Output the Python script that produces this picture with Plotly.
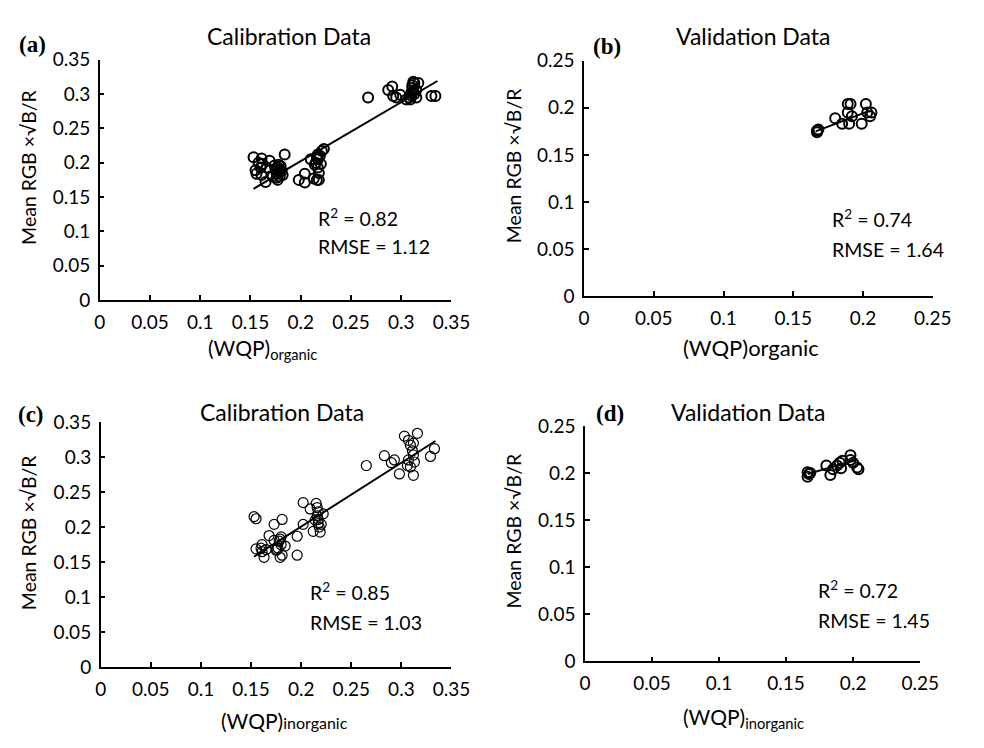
import plotly.graph_objects as go

# ---------------- data ----------------
a_x = [0.153, 0.155, 0.156, 0.161, 0.162, 0.161, 0.165, 0.166, 0.169, 0.174, 0.176, 0.177, 0.179, 0.184, 0.182,
       0.175, 0.177, 0.178, 0.179, 0.180, 0.176, 0.178, 0.181, 0.160, 0.158, 0.172,
       0.198, 0.204, 0.204, 0.210, 0.213, 0.216, 0.217, 0.217, 0.217, 0.218, 0.220, 0.221, 0.223, 0.218, 0.215, 0.216, 0.219, 0.214,
       0.267, 0.287, 0.291, 0.292, 0.295, 0.299, 0.308, 0.310, 0.311, 0.312, 0.313, 0.315, 0.317, 0.315, 0.330, 0.334,
       0.305, 0.309, 0.310, 0.312, 0.311, 0.313]
a_y = [0.208, 0.189, 0.184, 0.206, 0.198, 0.182, 0.172, 0.193, 0.203, 0.196, 0.184, 0.175, 0.189, 0.212, 0.182,
       0.190, 0.193, 0.186, 0.180, 0.195, 0.178, 0.197, 0.188, 0.193, 0.200, 0.180,
       0.175, 0.184, 0.171, 0.205, 0.177, 0.175, 0.212, 0.205, 0.193, 0.185, 0.198, 0.217, 0.220, 0.175, 0.200, 0.208, 0.210, 0.197,
       0.295, 0.306, 0.311, 0.297, 0.295, 0.299, 0.295, 0.302, 0.309, 0.318, 0.316, 0.306, 0.316, 0.295, 0.297, 0.297,
       0.292, 0.292, 0.298, 0.305, 0.313, 0.300]
a_fit_x = [0.153, 0.336]
a_fit_y = [0.162, 0.319]

b_x = [0.167, 0.168, 0.180, 0.185, 0.189, 0.191, 0.189, 0.190, 0.192, 0.199, 0.202, 0.203, 0.206, 0.205, 0.167]
b_y = [0.174, 0.177, 0.189, 0.183, 0.204, 0.204, 0.195, 0.183, 0.191, 0.183, 0.204, 0.195, 0.195, 0.191, 0.176]
b_fit_x = [0.166, 0.205]
b_fit_y = [0.175, 0.197]

c_x = [0.153, 0.155, 0.155, 0.161, 0.161, 0.163, 0.168, 0.173, 0.173, 0.175, 0.180, 0.180, 0.181, 0.181, 0.179, 0.184,
       0.177, 0.178, 0.176, 0.179, 0.160, 0.165,
       0.196, 0.196, 0.202, 0.202, 0.209, 0.212, 0.215, 0.216, 0.217, 0.217, 0.217, 0.219, 0.222, 0.220, 0.214, 0.216, 0.218,
       0.265, 0.283, 0.290, 0.293, 0.298, 0.303, 0.307, 0.316, 0.309, 0.312, 0.311, 0.312, 0.307, 0.306, 0.309, 0.312, 0.313,
       0.329, 0.333]
c_y = [0.215, 0.212, 0.169, 0.175, 0.165, 0.157, 0.188, 0.204, 0.181, 0.167, 0.186, 0.175, 0.211, 0.160, 0.157, 0.173,
       0.170, 0.180, 0.168, 0.183, 0.170, 0.168,
       0.187, 0.160, 0.204, 0.235, 0.226, 0.194, 0.234, 0.216, 0.211, 0.205, 0.222, 0.193, 0.219, 0.204, 0.210, 0.228, 0.200,
       0.288, 0.302, 0.292, 0.296, 0.276, 0.330, 0.324, 0.334, 0.317, 0.320, 0.309, 0.303, 0.296, 0.288, 0.286, 0.274, 0.293,
       0.301, 0.312]
c_fit_x = [0.153, 0.334]
c_fit_y = [0.158, 0.323]

d_x = [0.166, 0.166, 0.167, 0.180, 0.183, 0.185, 0.188, 0.190, 0.192, 0.191, 0.198, 0.198, 0.200, 0.203, 0.204, 0.168]
d_y = [0.201, 0.196, 0.199, 0.208, 0.198, 0.204, 0.208, 0.211, 0.213, 0.205, 0.219, 0.214, 0.211, 0.206, 0.204, 0.200]
d_fit_x = [0.166, 0.203]
d_fit_y = [0.199, 0.214]

stats = [("0.82", "1.12"), ("0.74", "1.64"), ("0.85", "1.03"), ("0.72", "1.45")]

# ---------------- figure ----------------
FONT = "Lato, 'Open Sans', sans-serif"
OFF = 8                      # default page margin of the html body
W, H = 984 - OFF, 748 - OFF


def px(x):
    return (x - OFF) / W


def py(y):
    return 1 - (y - OFF) / H


fig = go.Figure()

panels = [
    ("x", "y", a_x, a_y, a_fit_x, a_fit_y, 2.0),
    ("x2", "y2", b_x, b_y, b_fit_x, b_fit_y, 2.0),
    ("x3", "y3", c_x, c_y, c_fit_x, c_fit_y, 1.2),
    ("x4", "y4", d_x, d_y, d_fit_x, d_fit_y, 2.0),
]
for xa, ya, xs, ys, fx, fy, mlw in panels:
    fig.add_trace(go.Scatter(x=xs, y=ys, mode="markers", xaxis=xa, yaxis=ya,
                             marker=dict(symbol="circle-open", size=10, color="black",
                                         line=dict(width=mlw, color="black")),
                             showlegend=False, hoverinfo="skip"))
    fig.add_trace(go.Scatter(x=fx, y=fy, mode="lines", xaxis=xa, yaxis=ya,
                             line=dict(color="black", width=2),
                             showlegend=False, hoverinfo="skip"))

axis_common = dict(showgrid=False, zeroline=False, showline=True, linecolor="black", linewidth=1.5,
                   ticks="inside", ticklen=5, tickwidth=1.5, tickcolor="black",
                   tickfont=dict(family=FONT, size=19, color="black"),
                   tick0=0, dtick=0.05, ticklabelstandoff=4)

doms = {
    "a": dict(x=[px(96), px(457)], y=[py(297), py(49)], xr=0.35, yr=0.35),
    "b": dict(x=[px(593), px(951)], y=[py(293), py(50)], xr=0.25, yr=0.25),
    "c": dict(x=[px(97), px(457)], y=[py(676), py(423)], xr=0.35, yr=0.35),
    "d": dict(x=[px(594), px(938)], y=[py(670), py(427)], xr=0.25, yr=0.25),
}
names = [("xaxis", "yaxis", "x", "y"), ("xaxis2", "yaxis2", "x2", "y2"),
         ("xaxis3", "yaxis3", "x3", "y3"), ("xaxis4", "yaxis4", "x4", "y4")]
layout_axes = {}
for key, (xn, yn, xr, yr) in zip("abcd", names):
    d = doms[key]
    layout_axes[xn] = dict(axis_common, domain=d["x"], range=[0, d["xr"]], anchor=yr)
    layout_axes[yn] = dict(axis_common, domain=d["y"], range=[0, d["yr"]], anchor=xr)

fig.update_layout(**layout_axes)

ann = []


def text(x, y, t, size, xanchor="center", yanchor="middle", family=FONT, angle=0, xref="paper", yref="paper"):
    ann.append(dict(x=x, y=y, text=t, showarrow=False, xref=xref, yref=yref,
                    xanchor=xanchor, yanchor=yanchor, textangle=angle,
                    font=dict(family=family, size=size, color="black")))


# subplot titles
text(px(290), py(25), "Calibration Data", 23)
text(px(767), py(25), "Validation Data", 23)
text(px(283), py(413), "Calibration Data", 23)
text(px(762), py(413), "Validation Data", 23)

# panel labels
serif = "'Liberation Serif', 'DejaVu Serif', serif"
text(px(27), py(33), "<b>(a)</b>", 23, family=serif)
text(px(617), py(35), "<b>(b)</b>", 23, family=serif)
text(px(25), py(415), "<b>(c)</b>", 23, family=serif)
text(px(620), py(414), "<b>(d)</b>", 23, family=serif)

# y axis titles
ytitle = "Mean RGB ×√B/R"
text(px(23), py(160), ytitle, 19.5, angle=-90)
text(px(520), py(158), ytitle, 19.5, angle=-90)
text(px(23), py(537), ytitle, 19.5, angle=-90)
text(px(521), py(535), ytitle, 19.5, angle=-90)

# x axis titles
text(px(263), py(348), "(WQP)<sub>organic</sub>", 21)
text(px(764), py(346), "(WQP)organic", 22)
text(px(286), py(731), "(WQP)<span style='font-size:16px'>inorganic</span>", 21)
text(px(757), py(728), "(WQP)<sub>inorganic</sub>", 21)

# statistics
stat_pos = [("x", "y", 0.2155, 0.120, 0.0777),
            ("x2", "y2", 0.176, 0.082, 0.049),
            ("x3", "y3", 0.207, 0.108, 0.064),
            ("x4", "y4", 0.172, 0.076, 0.043)]
for (xr, yr, sx, sy1, sy2), (r2, rmse) in zip(stat_pos, stats):
    text(sx, sy1, "R<sup>2</sup> = " + r2, 19.5, xanchor="left", xref=xr, yref=yr)
    text(sx, sy2, "RMSE = " + rmse, 19.5, xanchor="left", xref=xr, yref=yr)

fig.update_layout(annotations=ann, width=W, height=H, margin=dict(l=0, r=0, t=0, b=0),
                  plot_bgcolor="white", paper_bgcolor="white", showlegend=False)

fig.write_html("out.html")
